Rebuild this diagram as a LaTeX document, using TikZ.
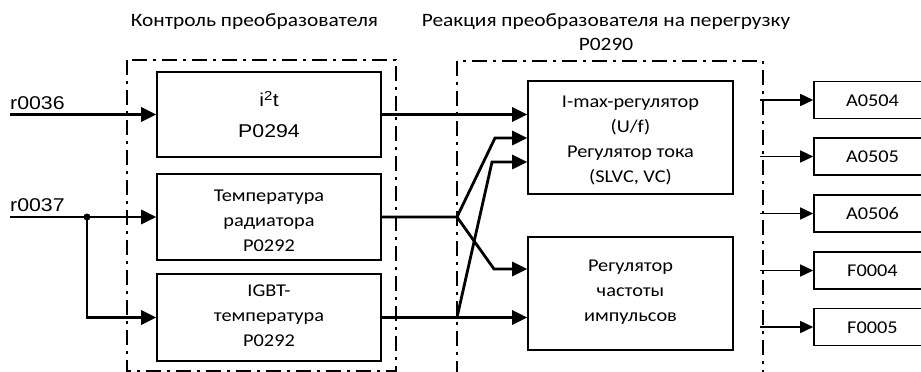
\documentclass[tikz,border=0pt]{standalone}
\usepackage{fontspec}
\setmainfont{Carlito}[FakeStretch=1.13]
\newfontfamily\arialf{Liberation Sans}[FakeStretch=1.15]
\usetikzlibrary{arrows.meta}
\tikzset{
  blk/.style={draw, line width=1.6pt, minimum width=224pt, inner sep=0pt},
  outbox/.style={draw, line width=1.6pt, minimum width=117pt, minimum height=37pt, inner sep=0pt,
    text height=12.6pt, text depth=0pt, font=\fontsize{18}{20}\selectfont},
  frm/.style={line width=2.8pt, dash pattern=on 15pt off 6pt on 3pt off 6pt},
  conn/.style={line width=2.8pt, -{Triangle[length=15pt,width=14pt]}},
  outarr/.style={line width=1.5pt, -{Triangle[length=13pt,width=12pt]}},
  ttl/.style={font=\fontsize{18.9}{24}\selectfont, align=center, inner sep=0pt, anchor=base},
  sig/.style={font=\arialf\fontsize{18.5}{20}\selectfont, inner sep=0pt},
  txt/.style={align=center, inner sep=0pt, anchor=base, font=\fontsize{18}{25}\selectfont}
}
\begin{document}
\begin{tikzpicture}[x=1pt,y=-1pt]
\useasboundingbox (0,0) rectangle (921,372);

% titles
\node[ttl] (t1) at (254.5,26.7) {Контроль преобразователя};
\node[ttl] (t2) at (606,50.7) {Реакция преобразователя на перегрузку\\P0290};

% frames
\draw[frm] (127,60) rectangle (396,371);
\draw[frm] (457,61) rectangle (763,400);

% left blocks
\node[blk, minimum height=85pt] (i2t) at (269,114.5) {};
\node[txt, font=\arialf\fontsize{18.5}{30.6}\selectfont] (i2tt) at (269,137.3) {i\textsuperscript{2}t\\P0294};
\node[blk, minimum height=86pt] (temp) at (269,217) {};
\node[txt] (tempt) at (269,251.7) {Температура\\радиатора\\P0292};
\node[blk, minimum height=87pt] (igbt) at (269,317.5) {};
\node[txt] (igbtt) at (269,346.7) {IGBT-\\температура\\P0292};

% right blocks
\node[blk, minimum width=205pt, minimum height=113pt] (imax) at (630.5,137.5) {};
\node[txt, font=\fontsize{18}{24.7}\selectfont] (imaxt) at (630.5,182)
  {I-max-регулятор\\(U/f)\\Регулятор тока\\(SLVC, VC)};
\node[blk, minimum width=205pt, minimum height=113pt] (pulse) at (630.5,293.5) {};
\node[txt] (pulset) at (630.5,321.7) {Регулятор\\частоты\\импульсов};

% outputs
\node[outbox] (o1) at (872.5,100) {A0504};
\node[outbox] (o2) at (872.5,156.5) {A0505};
\node[outbox] (o3) at (872.5,213.5) {A0506};
\node[outbox] (o4) at (872.5,270.5) {F0004};
\node[outbox] (o5) at (872.5,327) {F0005};

% inputs
\node[sig, anchor=base west] (r36) at (10,109) {r0036};
\node[sig, anchor=base west] (r37) at (10,211) {r0037};
\coordinate (s36) at (10,114.5);
\coordinate (s37) at (10,217);
\coordinate (jd) at (87,217);
\draw[conn] (s36) -- (i2t.west);
\draw[conn] (s37) -- (temp.west);
\draw[conn] (jd) |- (igbt.west);
\fill (jd) circle (3.5);

% middle connectors
\coordinate (jt) at (457,217);
\coordinate (ji) at (457,317.5);
\coordinate (k1) at (495,138);
\coordinate (k2) at (494,269);
\coordinate (k3) at (492,162);
\draw[conn] (i2t.east) -- (i2t.east -| imax.west);
\draw[conn] (temp.east) -- (jt) -- (k1) -- (k1 -| imax.west);
\draw[conn] (jt) -- (k2) -- (k2 -| pulse.west);
\draw[conn] (igbt.east) -- (igbt.east -| pulse.west);
\draw[conn] (ji) -- (k3) -- (k3 -| imax.west);

% output arrows
\coordinate (frR) at (760,0);
\foreach \o in {o1,o2,o3,o4,o5}
  \draw[outarr] (\o.west -| frR) -- (\o.west);
\end{tikzpicture}
\end{document}
